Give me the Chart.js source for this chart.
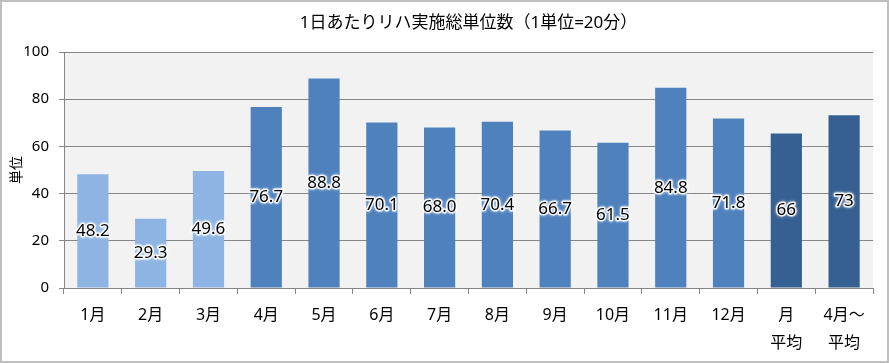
<!DOCTYPE html>
<html>
<head>
<meta charset="utf-8">
<script src="https://cdn.jsdelivr.net/npm/chart.js@4"></script>
<style>
  html, body { margin: 0; padding: 0; background: #fff; }
  #wrap { width: 889px; height: 363px; box-sizing: border-box; border: 2px solid #bfbfbf; background: #fff; }
  canvas { display: block; }
</style>
</head>
<body>
<div id="wrap"><canvas id="chart" width="885" height="359"></canvas></div>
<script>
const months = ['1月', '2月', '3月', '4月', '5月', '6月', '7月', '8月', '9月', '10月', '11月', '12月', ['月', '平均'], ['4月～', '平均']];
const units = [48.2, 29.3, 49.6, 76.7, 88.8, 70.1, 68.0, 70.4, 66.7, 61.5, 84.8, 71.8, 65.5, 73.2];
const labelDigits = [1, 1, 1, 1, 1, 1, 1, 1, 1, 1, 1, 1, 0, 0];
const barColors = ['#8db4e2', '#8db4e2', '#8db4e2',
    '#4f81bd', '#4f81bd', '#4f81bd', '#4f81bd', '#4f81bd', '#4f81bd', '#4f81bd', '#4f81bd', '#4f81bd',
    '#366092', '#366092'];
const yTicks = [0, 20, 40, 60, 80, 100];

const titleText = '1日あたりリハ実施総単位数（1単位=20分）';
const fontFamily = '"Noto Sans", "Noto Sans CJK JP", sans-serif';

// gray plot area + title centred over it
const plotBackground = {
    id: 'plotBackground',
    beforeDraw(chart) {
        const { ctx, chartArea } = chart;
        ctx.save();
        ctx.fillStyle = '#f2f2f2';
        ctx.fillRect(chartArea.left, chartArea.top, chartArea.right - chartArea.left, chartArea.bottom - chartArea.top);
        ctx.restore();
    },
    afterDraw(chart) {
        const { ctx, chartArea } = chart;
        ctx.save();
        ctx.font = '17px ' + fontFamily;
        ctx.fillStyle = '#000';
        ctx.textAlign = 'center';
        ctx.textBaseline = 'middle';
        ctx.fillText(titleText, (chartArea.left + chartArea.right) / 2, 21);
        ctx.restore();
    }
};

// value labels in the middle of each bar, with a white halo
const barLabels = {
    id: 'barLabels',
    afterDatasetsDraw(chart) {
        const ctx = chart.ctx;
        const meta = chart.getDatasetMeta(0);
        ctx.save();
        ctx.font = '17px ' + fontFamily;
        ctx.textAlign = 'center';
        ctx.textBaseline = 'middle';
        ctx.lineJoin = 'round';
        meta.data.forEach((bar, i) => {
            const text = units[i].toFixed(labelDigits[i]);
            const y = (bar.y + bar.base) / 2;
            ctx.shadowColor = 'rgba(255,255,255,0.9)';
            ctx.shadowBlur = 3;
            ctx.lineWidth = 3;
            ctx.strokeStyle = 'rgba(255,255,255,0.85)';
            ctx.strokeText(text, bar.x, y);
            ctx.shadowBlur = 0;
            ctx.fillStyle = '#000';
            ctx.fillText(text, bar.x, y);
        });
        ctx.restore();
    }
};

const ctx = document.getElementById('chart').getContext('2d');
new Chart(ctx, {
    type: 'bar',
    data: {
        labels: months,
        datasets: [{
            data: units,
            backgroundColor: barColors,
            borderWidth: 0,
            categoryPercentage: 1,
            barPercentage: 0.54
        }]
    },
    options: {
        responsive: false,
        animation: false,
        devicePixelRatio: 1,
        layout: { padding: { top: 50, right: 14, bottom: 0, left: 0 } },
        plugins: {
            legend: { display: false },
            tooltip: { enabled: false },
            title: { display: false }
        },
        scales: {
            x: {
                grid: { drawOnChartArea: false, drawTicks: true, tickLength: 6, color: '#868686', offset: true },
                border: { display: true, color: '#868686' },
                ticks: {
                    color: '#000',
                    font: { family: fontFamily, size: 16, lineHeight: '28px' },
                    padding: 7,
                    maxRotation: 0,
                    autoSkip: false
                },
                afterFit(scale) { scale.height = 73; }
            },
            y: {
                min: 0,
                max: 100,
                afterBuildTicks(scale) { scale.ticks = yTicks.map(v => ({ value: v })); },
                grid: { color: '#868686', tickLength: 5 },
                border: { display: true, color: '#868686' },
                ticks: {
                    color: '#000',
                    font: { family: fontFamily, size: 15 },
                    padding: 10
                },
                title: {
                    display: true,
                    text: '単位',
                    color: '#000',
                    font: { family: fontFamily, size: 14 },
                    padding: { top: 7, bottom: 0 }
                },
                afterFit(scale) { scale.width = 62; }
            }
        }
    },
    plugins: [plotBackground, barLabels]
});
</script>
</body>
</html>
